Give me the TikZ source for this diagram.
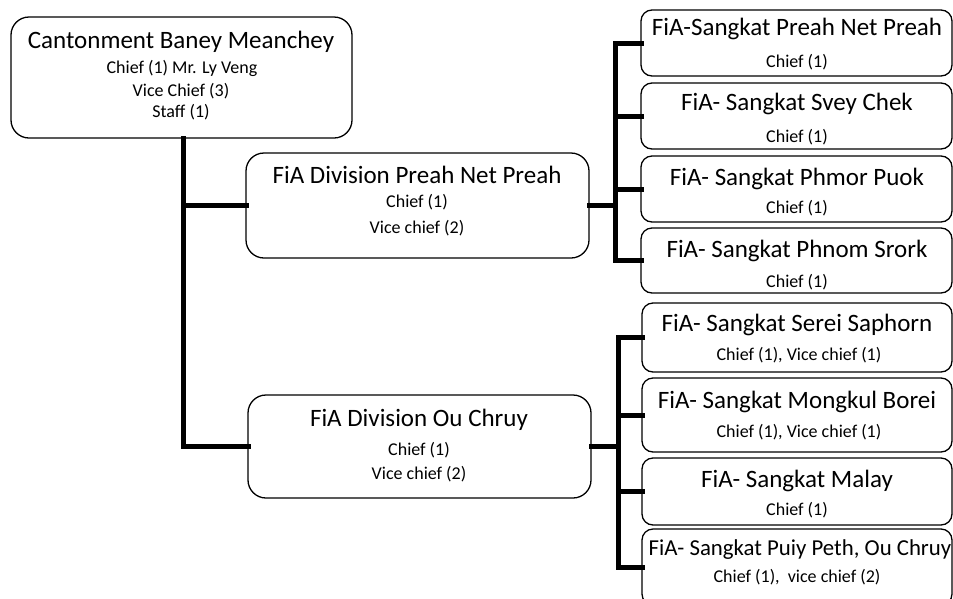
\documentclass[tikz,border=0pt]{standalone}
\usepackage{fontspec}
\setmainfont{Carlito}
\begin{document}
\begin{tikzpicture}[x=1pt,y=-1pt,
  box/.style={draw=black,line width=1.3pt,rectangle,rounded corners=18pt,inner sep=0pt,outer sep=0pt,anchor=north west},
  sbox/.style={box,rounded corners=11pt},
  ttl/.style={anchor=base,inner sep=0pt,font=\fontsize{25}{29}\selectfont},
  sub/.style={anchor=base,inner sep=0pt,font=\fontsize{18}{21}\selectfont},
  conn/.style={line width=5pt,line join=miter,line cap=rect}]
\useasboundingbox (0,0) rectangle (953,598);
% boxes
\node[box,minimum width=341pt,minimum height=121pt] (top) at (11,17) {};
\node[box,minimum width=343pt,minimum height=105pt] (d1) at (246,153) {};
\node[box,minimum width=343pt,minimum height=103pt] (d2) at (248,395) {};
\node[sbox,minimum width=311pt,minimum height=66pt] (r1) at (641,10) {};
\node[sbox,minimum width=311pt,minimum height=66pt] (r2) at (641,83) {};
\node[sbox,minimum width=311pt,minimum height=66pt] (r3) at (641,156) {};
\node[sbox,minimum width=311pt,minimum height=65pt] (r4) at (641,228) {};
\node[sbox,minimum width=310pt,minimum height=69pt] (r5) at (642,303) {};
\node[sbox,minimum width=310pt,minimum height=74pt] (r6) at (642,378) {};
\node[sbox,minimum width=310pt,minimum height=67pt] (r7) at (642,458) {};
\node[sbox,minimum width=310pt,minimum height=76pt] (r8) at (642,529) {};
% texts
\node[ttl] (topt) at (181,48) {Cantonment Baney Meanchey};
\node[sub] (tops1) at (182,73) {Chief (1) Mr. Ly Veng};
\node[sub] (tops2) at (181,96) {Vice Chief (3)};
\node[sub] (tops3) at (181,117) {Staff (1)};
\node[ttl] (d1t) at (417,183) {FiA Division Preah Net Preah};
\node[sub] (d1s1) at (417,207) {Chief (1)};
\node[sub] (d1s2) at (417,233) {Vice chief (2)};
\node[ttl] (d2t) at (419,426) {FiA Division Ou Chruy};
\node[sub] (d2s1) at (419,455) {Chief (1)};
\node[sub] (d2s2) at (419,479) {Vice chief (2)};
\node[ttl] (r1t) at (797,35) {FiA-Sangkat Preah Net Preah};
\node[sub] (r1s) at (797,67) {Chief (1)};
\node[ttl] (r2t) at (797,110) {FiA- Sangkat Svey Chek};
\node[sub] (r2s) at (797,142) {Chief (1)};
\node[ttl] (r3t) at (797,185) {FiA- Sangkat Phmor Puok};
\node[sub] (r3s) at (797,213) {Chief (1)};
\node[ttl] (r4t) at (797,257) {FiA- Sangkat Phnom Srork};
\node[sub] (r4s) at (797,287) {Chief (1)};
\node[ttl] (r5t) at (797,331) {FiA- Sangkat Serei Saphorn};
\node[sub] (r5s) at (799,360) {Chief (1), Vice chief (1)};
\node[ttl] (r6t) at (797,408) {FiA- Sangkat Mongkul Borei};
\node[sub] (r6s) at (799,437) {Chief (1), Vice chief (1)};
\node[ttl] (r7t) at (797,487) {FiA- Sangkat Malay};
\node[sub] (r7s) at (797,515) {Chief (1)};
\node[ttl,font=\fontsize{22.8}{26}\selectfont] (r8t) at (800,555) {FiA- Sangkat Puiy Peth, Ou Chruy};
\node[sub] (r8s) at (797,582) {Chief (1),\ \ vice chief (2)};
% connectors
\coordinate (trunk) at (183,0);
\coordinate (busA) at (615,0);
\coordinate (busB) at (618,0);
\draw[conn] (top.south -| trunk) |- (d2.west);
\draw[conn] (trunk |- d1.west) -- (d1.west);
\draw[conn] (d1.east) -- (busA |- d1.east);
\draw[conn] (r1.west) -| (busA |- r4.west) -- (r4.west);
\draw[conn] (busA |- r2.west) -- (r2.west);
\draw[conn] (busA |- r3.west) -- (r3.west);
\draw[conn] (d2.east) -- (busB |- d2.east);
\draw[conn] (r5.west) -| (busB |- r8.west) -- (r8.west);
\draw[conn] (busB |- r6.west) -- (r6.west);
\draw[conn] (busB |- r7.west) -- (r7.west);
\end{tikzpicture}
\end{document}
